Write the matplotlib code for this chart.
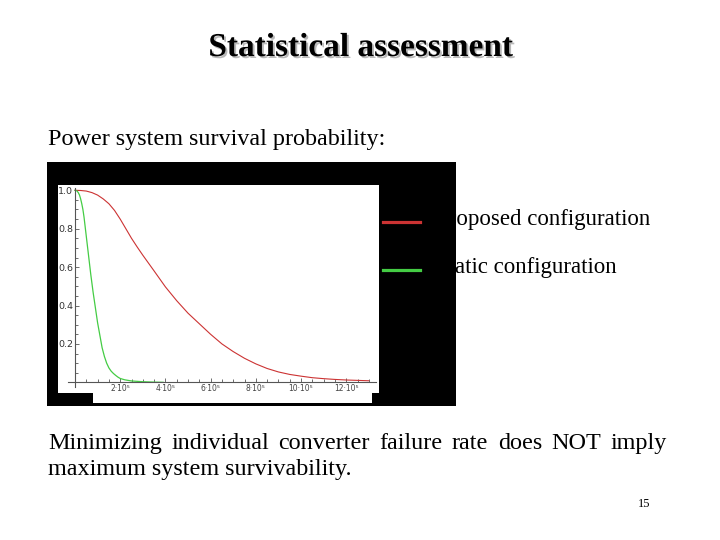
import matplotlib
matplotlib.use('Agg')
import matplotlib.pyplot as plt
from matplotlib.patches import Rectangle
from matplotlib.lines import Line2D
from matplotlib.transforms import Bbox, TransformedBbox
import matplotlib.patheffects as pe
import numpy as np

# ---------------- data ----------------
# time in units of 1e5 (hours)
t_proposed = [0, 0.25, 0.5, 0.75, 1.0, 1.25, 1.5, 1.75, 2.0, 2.25, 2.5, 2.75, 3.0,
              3.5, 4.0, 4.5, 5.0, 5.5, 6.0, 6.5, 7.0, 7.5, 8.0, 8.5, 9.0, 9.5,
              10.0, 10.5, 11.0, 11.5, 12.0, 12.5, 13.0]
R_proposed = [1.0, 0.999, 0.996, 0.988, 0.975, 0.955, 0.93, 0.895, 0.85, 0.80, 0.75,
              0.705, 0.662, 0.58, 0.497, 0.425, 0.36, 0.305, 0.25, 0.20, 0.16, 0.125,
              0.096, 0.072, 0.054, 0.041, 0.032, 0.024, 0.019, 0.015, 0.012, 0.010,
              0.008]
t_static = [0, 0.05, 0.1, 0.15, 0.2, 0.25, 0.3, 0.35, 0.4, 0.45, 0.5, 0.6, 0.7, 0.8,
            0.9, 1.0, 1.1, 1.2, 1.3, 1.4, 1.5, 1.6, 1.7, 1.8, 1.9, 2.0, 2.2, 2.5,
            3.0, 3.5, 3.9]
R_static = [1.0, 0.999, 0.995, 0.987, 0.975, 0.955, 0.93, 0.90, 0.86, 0.81, 0.76,
            0.66, 0.56, 0.47, 0.39, 0.31, 0.245, 0.18, 0.135, 0.10, 0.075, 0.058,
            0.046, 0.036, 0.027, 0.02, 0.013, 0.007, 0.003, 0.001, 0.0]
xtick_vals = [2, 4, 6, 8, 10, 12]
xtick_labels = ['2·10⁵', '4·10⁵', '6·10⁵', '8·10⁵', '10·10⁵', '12·10⁵']
ytick_vals = [0.2, 0.4, 0.6, 0.8, 1.0]
ytick_labels = ['0.2', '0.4', '0.6', '0.8', '1.0']
legend_labels = ['Proposed configuration', 'Static configuration']
series_colors = ['#cc3333', '#44cc44']

title = 'Statistical assessment'
subtitle = 'Power system survival probability:'
line1 = 'Minimizing individual converter failure rate does NOT imply'
line2 = 'maximum system survivability.'
page_no = '15'

# ---------------- figure ----------------
W, H = 720, 540
fig = plt.figure(figsize=(7.2, 5.4), dpi=100)
fig.patch.set_facecolor('white')
SERIF = 'Liberation Serif'


def fx(x):
    return x / W


def fy(y):
    return 1 - y / H


# black pasted image background
fig.add_artist(Rectangle((fx(47), fy(406)), (456 - 47) / W, (406 - 162) / H,
                         transform=fig.transFigure, facecolor='black',
                         edgecolor='none', zorder=-3))
fig.add_artist(Rectangle((fx(93), fy(403)), (372 - 93) / W, (403 - 392) / H,
                         transform=fig.transFigure, facecolor='white',
                         edgecolor='none', zorder=-2))

# plot axes (white area)
ax = fig.add_axes([fx(58), fy(393), (379 - 58) / W, (393 - 185) / H])
ax.set_facecolor('white')
ax.plot(np.array(t_proposed) * 1e5, R_proposed, color=series_colors[0], lw=0.8)
ax.plot(np.array(t_static) * 1e5, R_static, color=series_colors[1], lw=0.9)
ax.set_xlim(-0.752e5, 13.45e5)
ax.set_ylim(-0.0557, 1.0276)

for s in ['top', 'right']:
    ax.spines[s].set_visible(False)
ax.spines['left'].set_position(('data', 0))
ax.spines['bottom'].set_position(('data', 0))
ax.spines['left'].set_bounds(-0.025, 1.01)
ax.spines['bottom'].set_bounds(-0.3e5, 13.3e5)
for s in ['left', 'bottom']:
    ax.spines[s].set_color('#555555')
    ax.spines[s].set_linewidth(0.8)

ax.set_xticks([v * 1e5 for v in xtick_vals])
ax.set_xticklabels(xtick_labels)
ax.set_xticks(np.arange(0.5, 13.01, 0.5) * 1e5, minor=True)
ax.set_yticks(ytick_vals)
ax.set_yticklabels(ytick_labels)
ax.set_yticks(np.arange(0.05, 1.001, 0.05), minor=True)
ax.tick_params(which='both', direction='in', color='#555555', width=0.6)
ax.tick_params(which='major', length=3)
ax.tick_params(which='minor', length=2)
ax.tick_params(axis='x', which='major', labelsize=5.5, pad=1.5, labelcolor='#444444')
ax.tick_params(axis='y', which='major', labelsize=6.8, pad=1.5, labelcolor='#333333')

# legend (partly hidden behind image border)
clipbox = TransformedBbox(Bbox([[fx(456), 0], [1, 1]]), fig.transFigure)
for lab, col, ly, rx in zip(legend_labels, series_colors, [222, 270], [650, 617]):
    fig.add_artist(Line2D([fx(383), fx(420)], [fy(ly), fy(ly)],
                          transform=fig.transFigure, color=col, lw=2.3, zorder=3))
    t = fig.text(fx(rx), fy(ly + 3), lab, ha='right', va='baseline',
                 fontsize=16.5, family=SERIF, color='black')
    t.set_clip_box(clipbox)
    t.set_clip_on(True)

# title
fig.text(fx(361), fy(56), title, ha='center', va='baseline', fontsize=24,
         fontweight='bold', family=SERIF, color='black',
         path_effects=[pe.withSimplePatchShadow(offset=(1.4, -1.4),
                                                shadow_rgbFace='#8a8a8a', alpha=0.6)])

fig.text(fx(48), fy(145), subtitle, ha='left', va='baseline', fontsize=17.4,
         family=SERIF, color='black')

# justified first line
renderer = fig.canvas.get_renderer()
words = line1.split()
widths = []
for w in words:
    tt = fig.text(0, 0, w, fontsize=17.4, family=SERIF)
    widths.append(tt.get_window_extent(renderer).width)
    tt.remove()
gap = (667 - 48 - sum(widths)) / (len(words) - 1)
x = 48.0
for w, wd in zip(words, widths):
    fig.text(fx(x), fy(449), w, ha='left', va='baseline', fontsize=17.4,
             family=SERIF, color='black')
    x += wd + gap

fig.text(fx(48), fy(475), line2, ha='left', va='baseline', fontsize=17.4,
         family=SERIF, color='black')
fig.text(fx(650), fy(507), page_no, ha='right', va='baseline', fontsize=9,
         family=SERIF, color='black')

fig.savefig('out.png', dpi=100, facecolor='white')
